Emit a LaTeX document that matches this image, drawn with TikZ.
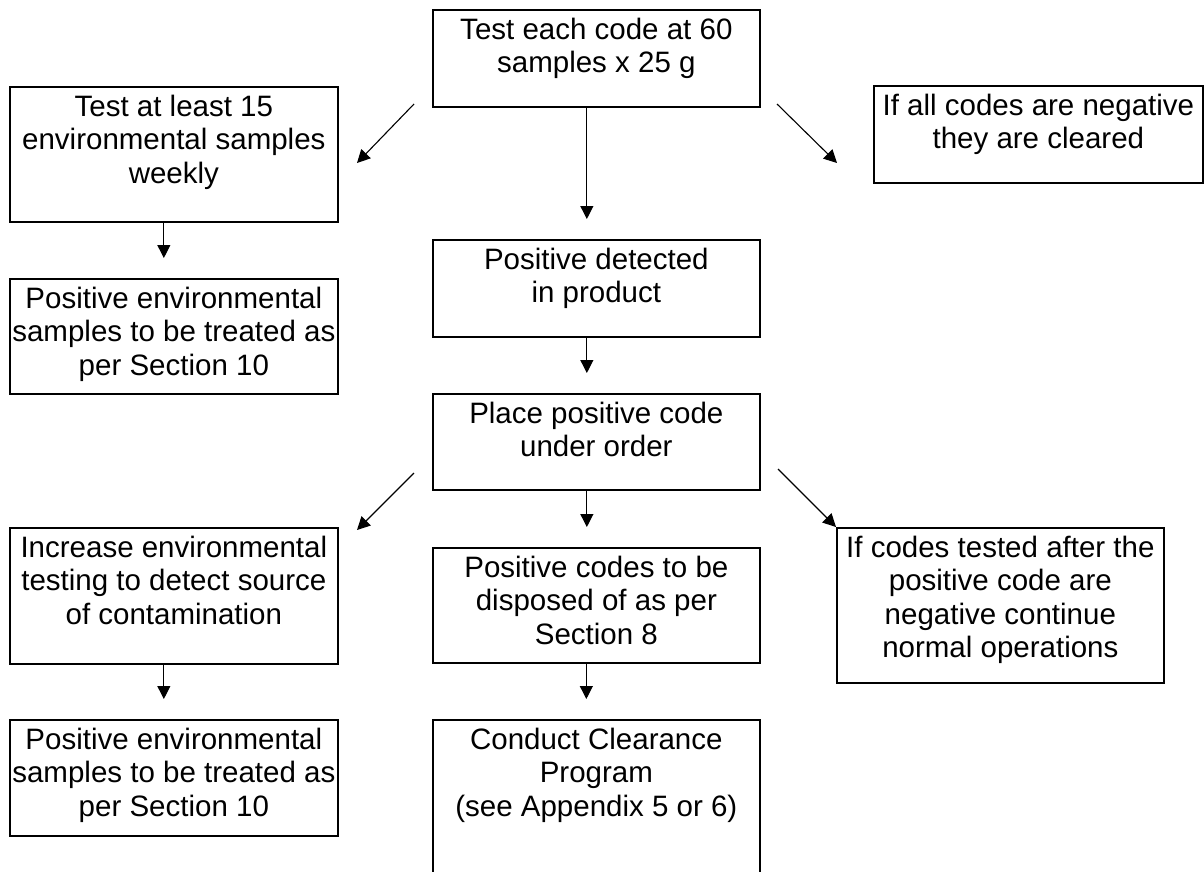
\documentclass[tikz,border=0pt]{standalone}
\usepackage{fontspec}
\setmainfont{Liberation Sans}
\usetikzlibrary{arrows.meta,calc}
\newcommand\bt[3]{\parbox[t][#2pt][t]{#1pt}{\fontsize{29.5pt}{33.5pt}\selectfont\centering\rule{0pt}{29.5pt}#3\par}}
\tikzset{
  box/.style={draw, line width=1.7pt, inner sep=0pt, anchor=north west},
  arr/.style={line width=1.1pt, -{Triangle[length=13pt,width=13pt]}},
}
\begin{document}
\begin{tikzpicture}[x=1pt,y=-1pt]
\useasboundingbox (0,0) rectangle (1204,871);
\clip (0,0) rectangle (1204,871);
\fill[white] (0,0) rectangle (1204,871);
% boxes
\node[box] (b1) at (432,9) {\bt{327}{97}{Test each code at 60\\samples x 25 g}};
\node[box] (b2) at (9,86) {\bt{328}{135}{Test at least 15\\environmental samples\\weekly}};
\node[box] (b3) at (873,85) {\bt{329}{97}{If all codes are negative\\they are cleared}};
\node[box] (b4) at (9,278) {\bt{328}{115}{Positive environmental\\samples to be treated as\\per Section 10}};
\node[box] (b5) at (432,239) {\bt{327}{97}{Positive detected\\in product}};
\node[box] (b6) at (432,393) {\bt{327}{96}{Place positive code\\under order}};
\node[box] (b7) at (9,527) {\bt{328}{136}{Increase environmental\\testing to detect source\\of contamination}};
\node[box] (b8) at (432,547) {\bt{327}{115}{Positive codes to be\\disposed of as per\\Section 8}};
\node[box] (b9) at (836,527) {\bt{327}{155}{If codes tested after the\\positive code are\\negative continue\\normal operations}};
\node[box] (b10) at (9,719) {\bt{328}{116}{Positive environmental\\samples to be treated as\\per Section 10}};
\node[box] (b11) at (432,719) {\bt{327}{181}{Conduct Clearance\\Program\\(see Appendix 5 or 6)}};
% connector end points
\coordinate (s2) at (414,104); \coordinate (t2) at (357,163);
\coordinate (s3) at (777,104); \coordinate (t3) at (837,163);
\coordinate (s7) at (414,473); \coordinate (t7) at (357,530);
\coordinate (s9) at (778,469); \coordinate (t9) at (836,527);
% connectors
\draw[arr] ([xshift=-9.5pt]b1.south) -- ([xshift=-9.5pt,yshift=20pt]b5.north);
\draw[arr] (s2) -- (t2);
\draw[arr] (s3) -- (t3);
\draw[arr] ([xshift=-10pt]b2.south) -- ([xshift=-10pt,yshift=20pt]b4.north);
\draw[arr] ([xshift=-9.5pt]b5.south) -- ([xshift=-9.5pt,yshift=20pt]b6.north);
\draw[arr] (s7) -- (t7);
\draw[arr] (s9) -- (t9);
\draw[arr] ([xshift=-9.5pt]b6.south) -- ([xshift=-9.5pt,yshift=20pt]b8.north);
\draw[arr] ([xshift=-10pt]b7.south) -- ([xshift=-10pt,yshift=20pt]b10.north);
\draw[arr] ([xshift=-10pt]b8.south) -- ([xshift=-10pt,yshift=20pt]b11.north);
\end{tikzpicture}
\end{document}
